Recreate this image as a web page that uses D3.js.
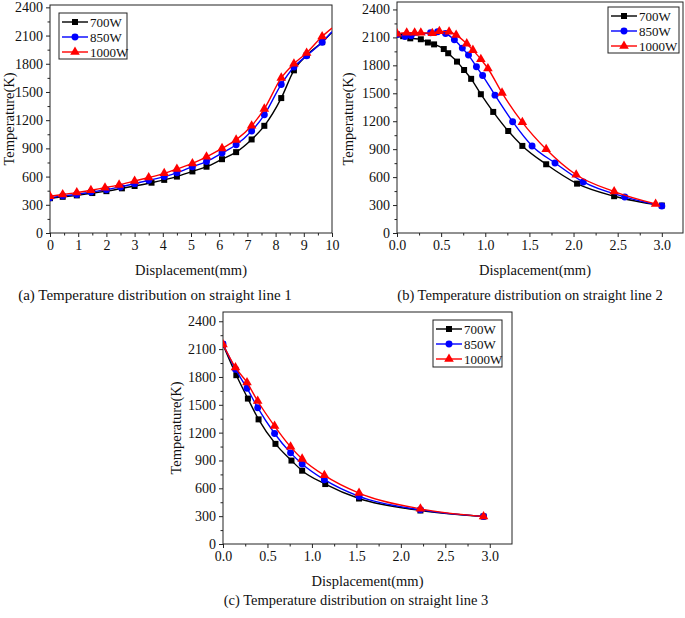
<!DOCTYPE html>
<html><head><meta charset="utf-8">
<script src="https://cdn.jsdelivr.net/npm/d3@7"></script>
<style>
body{margin:0;background:#fff;}
svg{display:block;}
svg text{font-family:"Liberation Serif","Times New Roman",serif;}
</style></head>
<body>
<svg id="chart" width="685" height="618"></svg>
<script>
// ---- data ----
const seriesNames = ["700W", "850W", "1000W"];
const yTicks = [0, 300, 600, 900, 1200, 1500, 1800, 2100, 2400];

const a_x700  = [0,0.45,0.95,1.5,2.0,2.55,3.0,3.6,4.05,4.5,5.05,5.55,6.1,6.6,7.15,7.6,8.2,8.65,9.1,9.65,10];
const a_y700  = [370,385,400,425,445,475,500,535,565,600,655,705,785,860,995,1140,1435,1730,1890,2030,2135];
const a_x850  = [0,0.45,0.95,1.45,2.0,2.5,3.0,3.5,4.05,4.5,5.05,5.55,6.1,6.6,7.15,7.6,8.2,8.65,9.1,9.65,10];
const a_y850  = [375,395,410,435,460,490,525,560,600,640,705,760,850,938,1085,1257,1580,1765,1885,2028,2140];
const a_x1000 = [0,0.45,0.95,1.45,1.95,2.45,3.0,3.5,4.05,4.5,5.05,5.55,6.1,6.6,7.15,7.6,8.2,8.65,9.1,9.65,10];
const a_y1000 = [390,410,430,455,482,512,553,590,635,680,740,810,900,990,1140,1320,1650,1800,1915,2090,2180];

const b_x700  = [0,0.07,0.15,0.27,0.35,0.42,0.53,0.58,0.68,0.76,0.84,0.95,1.09,1.26,1.42,1.69,2.04,2.46,3.0];
const b_y700  = [2131,2113,2090,2080,2045,2025,1975,1930,1840,1750,1655,1490,1300,1095,935,738,530,395,295];
const b_x850  = [0,0.09,0.16,0.38,0.46,0.55,0.65,0.74,0.81,0.9,0.97,1.11,1.31,1.53,1.79,2.11,2.58,3.0];
const b_y850  = [2130,2110,2117,2150,2160,2142,2075,1985,1910,1785,1690,1480,1195,935,752,548,387,290];
const b_x1000 = [0,0.11,0.2,0.27,0.4,0.48,0.59,0.67,0.79,0.86,0.95,1.03,1.19,1.42,1.69,2.03,2.46,2.93];
const b_y1000 = [2140,2150,2150,2150,2145,2165,2160,2125,2033,1963,1866,1766,1504,1188,899,625,445,312];

const c_x700  = [0,0.15,0.28,0.4,0.59,0.77,0.89,1.15,1.53,2.22,2.93];
const c_y700  = [2148,1819,1567,1343,1079,899,790,646,490,361,296];
const c_x850  = [0,0.14,0.27,0.39,0.58,0.76,0.89,1.14,1.53,2.22,2.93];
const c_y850  = [2155,1884,1679,1469,1191,982,863,693,513,368,296];
const c_x1000 = [0,0.14,0.27,0.39,0.58,0.76,0.89,1.14,1.53,2.22,2.93];
const c_y1000 = [2150,1902,1740,1541,1271,1047,917,740,549,379,296];

const a_xTicks = [0,1,2,3,4,5,6,7,8,9,10];
const bc_xTicks = [0,0.5,1.0,1.5,2.0,2.5,3.0];

const xTitle = "Displacement(mm)";
const yTitle = "Temperature(K)";
const captions = ["(a) Temperature distribution on straight line 1",
                  "(b) Temperature distribution on straight line 2",
                  "(c) Temperature distribution on straight line 3"];

// ---- styles ----
const FONT = "Liberation Serif";
const colors = ["#000000", "#0000ff", "#ff0000"];
const shapes = [d3.symbolSquare, d3.symbolCircle, d3.symbolTriangle];
const shapeSize = [36, 38, 40];

const svg = d3.select("#chart");

function zip(xs, ys){ return xs.map((x,i)=>({x:x, y:ys[i]})); }

function drawPanel(p){
  const g = svg.append("g");
  const x = d3.scaleLinear().domain([0, p.xMax]).range([p.left, p.right]);
  const y = d3.scaleLinear().domain([0, p.yMax]).range([p.bottom, p.top]);

  // frame
  g.append("rect").attr("x", p.left).attr("y", p.top)
    .attr("width", p.right - p.left).attr("height", p.bottom - p.top)
    .attr("fill", "none").attr("stroke", "#222").attr("stroke-width", 1);

  // minor ticks
  const xMinor = d3.axisBottom(x).tickValues(p.xMinor).tickSize(2.5).tickFormat("");
  const yMinor = d3.axisLeft(y).tickValues(d3.range(150, 2400, 300)).tickSize(2.5).tickFormat("");
  g.append("g").attr("transform", `translate(0,${p.bottom})`).call(xMinor)
    .call(s => s.select(".domain").remove());
  g.append("g").attr("transform", `translate(${p.left},0)`).call(yMinor)
    .call(s => s.select(".domain").remove());

  // major axes
  const xAxis = d3.axisBottom(x).tickValues(p.xTicks).tickSize(4).tickPadding(3)
    .tickFormat(p.xFmt);
  const yAxis = d3.axisLeft(y).tickValues(yTicks).tickSize(4).tickPadding(3)
    .tickFormat(d3.format("d"));
  const gx = g.append("g").attr("transform", `translate(0,${p.bottom})`).call(xAxis);
  const gy = g.append("g").attr("transform", `translate(${p.left},0)`).call(yAxis);
  [gx, gy].forEach(a => {
    a.attr("font-family", FONT).attr("font-size", 14);
    a.select(".domain").remove();
    a.selectAll("text").attr("font-family", FONT).attr("font-size", 14).attr("fill", "#111");
  });
  g.selectAll(".tick line").attr("stroke", "#222");

  // clip
  const cid = "clip" + p.id;
  svg.append("clipPath").attr("id", cid).append("rect")
    .attr("x", p.left).attr("y", p.top).attr("width", p.right - p.left).attr("height", p.bottom - p.top);

  const line = d3.line().x(d => x(d.x)).y(d => y(d.y)).curve(d3.curveMonotoneX);
  const plot = g.append("g").attr("clip-path", `url(#${cid})`);
  p.series.forEach((s, i) => {
    const data = zip(s[0], s[1]);
    plot.append("path").datum(data).attr("d", line)
      .attr("fill", "none").attr("stroke", colors[i]).attr("stroke-width", 1.4);
    plot.selectAll(null).data(data.filter(d => d.x < p.xMax - 1e-6)).enter().append("path")
      .attr("transform", d => `translate(${x(d.x)},${y(d.y)})`)
      .attr("d", d3.symbol().type(shapes[i]).size(shapeSize[i]))
      .attr("fill", colors[i]);
  });

  // legend
  const lg = g.append("g");
  lg.append("rect").attr("x", p.leg.x).attr("y", p.leg.y).attr("width", p.leg.w).attr("height", p.leg.h)
    .attr("fill", "#fff").attr("stroke", "#222").attr("stroke-width", 1);
  seriesNames.forEach((n, i) => {
    const ry = p.leg.y + 9 + i * 15;
    lg.append("line").attr("x1", p.leg.x + 3).attr("x2", p.leg.x + 29).attr("y1", ry).attr("y2", ry)
      .attr("stroke", colors[i]).attr("stroke-width", 1.4);
    lg.append("path").attr("transform", `translate(${p.leg.x + 16},${ry})`)
      .attr("d", d3.symbol().type(shapes[i]).size(shapeSize[i])).attr("fill", colors[i]);
    lg.append("text").attr("x", p.leg.x + 31).attr("y", ry + 4.5)
      .attr("font-family", FONT).attr("font-size", 13)
      .attr("fill", "#111").text(n);
  });

  // titles
  g.append("text").attr("x", (p.left + p.right) / 2 + p.xtOff).attr("y", p.bottom + 42)
    .attr("text-anchor", "middle").attr("font-family", FONT).attr("font-size", 14.5)
    .attr("fill", "#111").text(xTitle);
  g.append("text").attr("transform", `translate(${p.ytX},${p.ytY}) rotate(-90)`)
    .attr("text-anchor", "middle").attr("font-family", FONT).attr("font-size", 14.5)
    .attr("fill", "#111").text(yTitle);
  g.append("text").attr("x", p.capX).attr("y", p.capY)
    .attr("text-anchor", "middle").attr("font-family", FONT).attr("font-size", p.capSize)
    .attr("fill", "#111").text(p.caption);
}

drawPanel({id:"a", left:50, right:332, top:5, bottom:233, xMax:10, yMax:2425,
  xTicks:a_xTicks, xMinor:d3.range(0.5, 10, 1), xFmt:d3.format("d"),
  series:[[a_x700,a_y700],[a_x850,a_y850],[a_x1000,a_y1000]],
  leg:{x:59, y:13, w:68, h:46}, xtOff:0, ytX:14, ytY:119, capX:155, capY:300, capSize:15, caption:captions[0]});

drawPanel({id:"b", left:397, right:683, top:2, bottom:233, xMax:3.24, yMax:2480,
  xTicks:bc_xTicks, xMinor:d3.range(0.25, 3.2, 0.5), xFmt:d3.format(".1f"),
  series:[[b_x700,b_y700],[b_x850,b_y850],[b_x1000,b_y1000]],
  leg:{x:608, y:7, w:71, h:46}, xtOff:-5, ytX:353, ytY:119, capX:530, capY:300, capSize:14.5, caption:captions[1]});

drawPanel({id:"c", left:223, right:512, top:312, bottom:544, xMax:3.25, yMax:2500,
  xTicks:bc_xTicks, xMinor:d3.range(0.25, 3.2, 0.5), xFmt:d3.format(".1f"),
  series:[[c_x700,c_y700],[c_x850,c_y850],[c_x1000,c_y1000]],
  leg:{x:433, y:320, w:69, h:47}, xtOff:0, ytX:181, ytY:428, capX:356, capY:605, capSize:14.5, caption:captions[2]});
</script>
</body></html>
